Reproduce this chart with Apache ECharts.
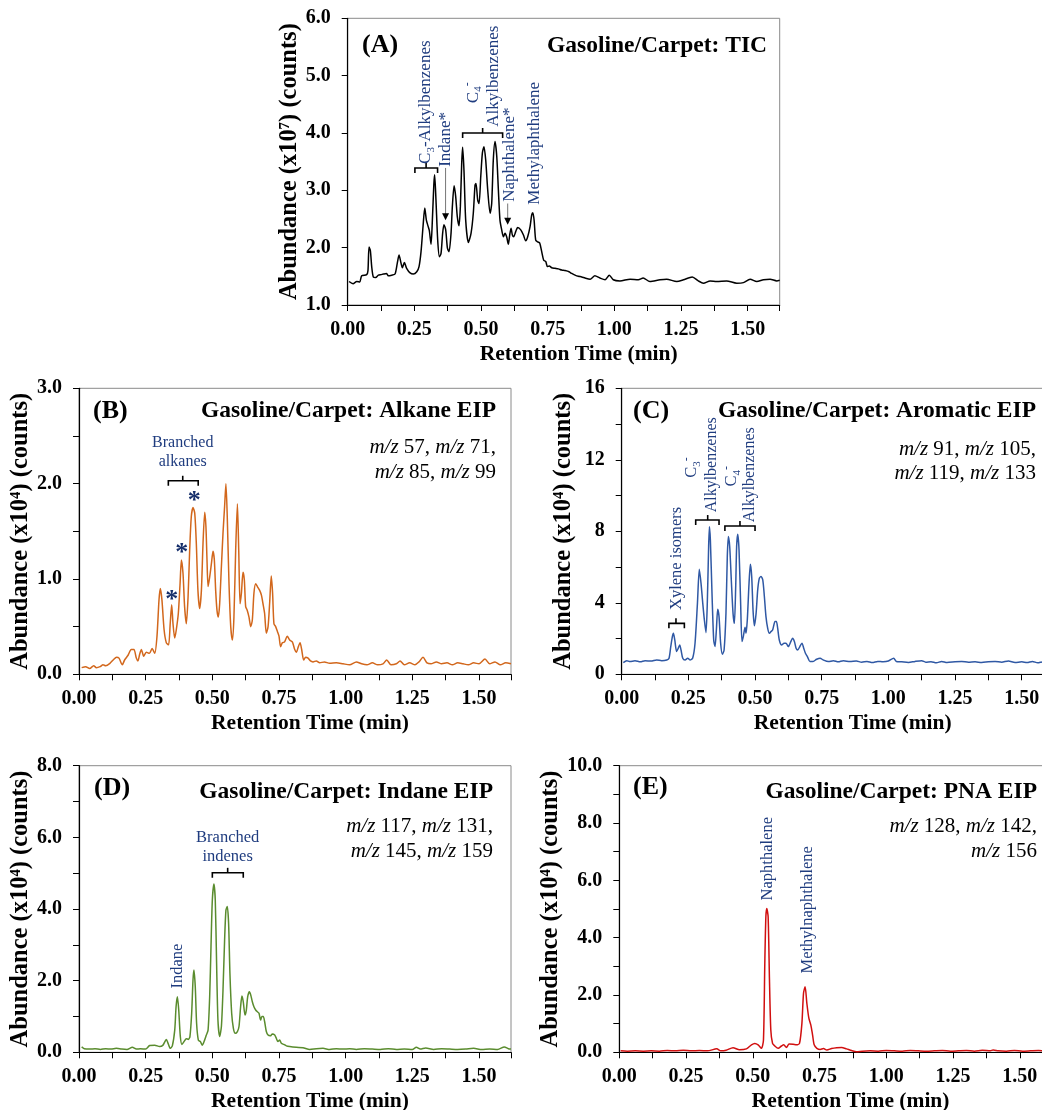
<!DOCTYPE html>
<html><head><meta charset="utf-8">
<script src="https://cdn.jsdelivr.net/npm/echarts@6/dist/echarts.min.js"></script>
<style>html,body{margin:0;padding:0;background:#fff}#c{width:1042px;height:1110px}</style>
</head><body><div id="c"></div>
<script>
// ---------------- DATA ----------------
const xTickLabels = ['0.00','0.25','0.50','0.75','1.00','1.25','1.50'];

// (A) TIC, abundance x10^7
const tA = [0.005,0.02,0.034,0.045,0.0525,0.071,0.076,0.08,0.085,0.09,0.096,0.105,0.115,0.125,0.134,0.146,0.152,0.165,0.1775,0.186,0.1925,0.2,0.205,0.2125,0.221,0.234,0.246,0.259,0.2675,0.275,0.2825,0.289,0.295,0.301,0.306,0.3125,0.3175,0.323,0.326,0.331,0.3375,0.344,0.35,0.356,0.361,0.3675,0.374,0.38,0.3875,0.3925,0.399,0.405,0.411,0.4175,0.4225,0.4275,0.431,0.436,0.4425,0.4525,0.4625,0.471,0.4775,0.481,0.4875,0.4925,0.499,0.505,0.511,0.5175,0.525,0.534,0.54,0.546,0.5525,0.559,0.565,0.571,0.5775,0.584,0.59,0.596,0.6025,0.6075,0.6125,0.6175,0.6225,0.63,0.6375,0.649,0.659,0.6675,0.675,0.684,0.69,0.694,0.699,0.705,0.7125,0.72,0.7275,0.735,0.7425,0.749,0.756,0.765,0.7775,0.79,0.8025,0.815,0.83,0.84,0.8525,0.865,0.8775,0.89,0.909,0.927,0.946,0.965,0.981,0.996,1.021,1.059,1.09,1.108,1.133,1.171,1.196,1.234,1.259,1.292,1.315,1.334,1.359,1.384,1.421,1.459,1.484,1.509,1.534,1.559,1.584,1.609,1.62];
const vA = [1.41,1.37,1.41,1.40,1.51,1.53,1.60,2.01,1.95,1.67,1.49,1.48,1.52,1.53,1.54,1.55,1.51,1.52,1.54,1.73,1.87,1.73,1.65,1.74,1.64,1.56,1.54,1.58,1.67,1.93,2.37,2.69,2.48,2.38,2.30,2.06,2.48,3.10,3.27,2.83,2.13,1.84,1.90,2.25,2.40,2.31,1.99,1.93,2.25,2.72,3.08,2.89,2.54,2.38,2.72,3.47,3.75,3.35,2.48,2.09,2.25,2.60,3.09,3.12,2.83,2.77,3.24,3.65,3.76,3.53,3.01,2.60,2.77,3.53,3.85,3.59,3.01,2.48,2.31,2.19,2.25,2.19,2.06,2.22,2.34,2.22,2.19,2.28,2.35,2.31,2.22,2.12,2.19,2.37,2.57,2.61,2.48,2.13,2.10,2.08,1.93,1.78,1.76,1.67,1.68,1.65,1.64,1.63,1.61,1.60,1.58,1.55,1.52,1.50,1.49,1.47,1.45,1.51,1.47,1.44,1.52,1.44,1.42,1.45,1.44,1.47,1.41,1.44,1.45,1.41,1.44,1.49,1.42,1.38,1.42,1.41,1.42,1.38,1.39,1.45,1.41,1.44,1.45,1.42,1.43];

// (B) Alkane EIP, x10^4
const tB = [0.01,0.025,0.04,0.055,0.065,0.079,0.09,0.1,0.116,0.128,0.141,0.15,0.1625,0.171,0.184,0.196,0.206,0.215,0.221,0.2275,0.234,0.2425,0.2525,0.264,0.274,0.284,0.2925,0.3,0.305,0.311,0.319,0.3275,0.336,0.342,0.3475,0.3525,0.359,0.365,0.3725,0.379,0.384,0.39,0.396,0.4025,0.409,0.415,0.421,0.4275,0.434,0.44,0.446,0.4525,0.459,0.465,0.4715,0.476,0.48,0.484,0.49,0.4965,0.5025,0.5075,0.5125,0.5175,0.5225,0.5275,0.534,0.54,0.546,0.551,0.556,0.5625,0.569,0.575,0.581,0.5875,0.594,0.599,0.604,0.609,0.615,0.62,0.625,0.631,0.6375,0.644,0.65,0.656,0.6625,0.669,0.6775,0.684,0.69,0.696,0.7025,0.709,0.715,0.721,0.726,0.731,0.7375,0.744,0.75,0.756,0.7625,0.771,0.781,0.79,0.8,0.809,0.815,0.8225,0.829,0.835,0.8425,0.85,0.859,0.868,0.8775,0.89,0.9025,0.92,0.94,0.965,0.99,1.015,1.04,1.06,1.08,1.1,1.12,1.14,1.154,1.17,1.19,1.204,1.22,1.24,1.26,1.275,1.29,1.305,1.32,1.34,1.36,1.38,1.4,1.42,1.44,1.46,1.48,1.5,1.5225,1.54,1.56,1.58,1.6,1.62];
const vB = [0.07,0.08,0.06,0.09,0.07,0.08,0.10,0.09,0.115,0.15,0.18,0.17,0.10,0.15,0.20,0.26,0.26,0.17,0.14,0.21,0.26,0.19,0.23,0.22,0.27,0.22,0.40,0.78,0.90,0.78,0.47,0.33,0.31,0.53,0.73,0.53,0.38,0.47,0.64,0.95,1.20,1.06,0.71,0.53,0.81,1.30,1.65,1.75,1.69,1.37,0.88,0.69,0.88,1.37,1.70,1.55,1.20,0.92,1.02,1.16,1.29,1.20,0.88,0.67,0.60,0.74,1.13,1.48,1.76,2.00,1.65,0.95,0.50,0.36,0.60,1.30,1.79,1.30,0.74,0.85,1.07,0.99,0.71,0.67,0.60,0.50,0.57,0.85,0.95,0.92,0.88,0.83,0.74,0.64,0.43,0.50,0.75,1.03,0.85,0.53,0.50,0.45,0.40,0.29,0.33,0.34,0.40,0.36,0.34,0.26,0.23,0.29,0.33,0.26,0.15,0.18,0.17,0.14,0.13,0.14,0.12,0.13,0.115,0.12,0.11,0.10,0.13,0.11,0.10,0.12,0.10,0.11,0.15,0.10,0.11,0.14,0.10,0.12,0.10,0.13,0.18,0.12,0.11,0.13,0.11,0.12,0.10,0.12,0.11,0.10,0.12,0.11,0.16,0.11,0.13,0.10,0.12,0.11];

// (C) Aromatic EIP, x10^4
const tC = [0.006,0.019,0.031,0.05,0.07,0.0875,0.11,0.131,0.15,0.169,0.1775,0.184,0.19,0.194,0.199,0.206,0.212,0.2175,0.2225,0.229,0.2375,0.2475,0.256,0.266,0.275,0.284,0.291,0.2975,0.304,0.31,0.316,0.321,0.326,0.329,0.3325,0.339,0.345,0.35,0.355,0.36,0.365,0.371,0.3775,0.384,0.391,0.396,0.4,0.405,0.411,0.4175,0.4225,0.4275,0.431,0.435,0.44,0.446,0.451,0.456,0.4625,0.466,0.471,0.4775,0.4825,0.4875,0.4925,0.4975,0.504,0.51,0.516,0.5225,0.529,0.535,0.541,0.5475,0.554,0.56,0.566,0.575,0.58,0.585,0.591,0.6,0.609,0.616,0.625,0.634,0.641,0.6475,0.654,0.66,0.668,0.676,0.6825,0.689,0.6975,0.706,0.716,0.731,0.744,0.756,0.775,0.794,0.812,0.831,0.856,0.88,0.9,0.92,0.94,0.96,0.98,1.0,1.02,1.03,1.05,1.075,1.1,1.125,1.14,1.16,1.18,1.2,1.22,1.25,1.275,1.3,1.325,1.35,1.375,1.4,1.425,1.45,1.475,1.5,1.52,1.54,1.56,1.58,1.6,1.62];
const vC = [0.65,0.76,0.71,0.76,0.70,0.76,0.74,0.80,0.76,0.80,0.90,1.55,2.11,2.29,1.92,1.27,1.45,1.64,1.36,0.90,0.80,0.90,0.80,0.90,1.74,3.97,5.88,5.09,3.97,3.04,2.33,3.97,7.15,8.26,7.52,4.35,1.92,1.55,2.48,3.64,3.23,1.74,1.12,1.36,3.41,6.59,7.71,7.15,5.28,3.41,2.85,4.91,7.15,7.84,6.96,3.97,1.83,2.11,2.63,2.29,3.04,5.09,6.16,5.47,3.60,2.71,3.41,4.72,5.37,5.47,5.28,4.35,3.23,2.57,2.29,2.39,2.48,2.95,2.95,2.57,1.92,1.64,1.74,1.74,1.55,1.83,2.01,1.83,1.46,1.36,1.55,1.74,1.46,1.18,0.95,0.71,0.71,0.84,0.90,0.80,0.71,0.76,0.70,0.76,0.71,0.74,0.68,0.72,0.66,0.72,0.70,0.74,0.90,0.72,0.70,0.66,0.72,0.76,0.68,0.70,0.64,0.72,0.66,0.70,0.72,0.68,0.70,0.66,0.70,0.72,0.68,0.74,0.66,0.70,0.66,0.72,0.64,0.70,0.68,0.70];

// (D) Indane EIP, x10^4
const tD = [0.01,0.02,0.04,0.06,0.08,0.1,0.12,0.14,0.16,0.18,0.2,0.215,0.23,0.25,0.265,0.284,0.3025,0.315,0.3275,0.334,0.3425,0.35,0.359,0.364,0.369,0.374,0.38,0.386,0.394,0.4025,0.41,0.416,0.4225,0.4275,0.431,0.436,0.441,0.4475,0.455,0.4625,0.471,0.4775,0.484,0.49,0.495,0.5,0.506,0.511,0.516,0.521,0.5275,0.534,0.54,0.546,0.551,0.556,0.561,0.566,0.5725,0.579,0.586,0.594,0.6,0.606,0.611,0.616,0.6225,0.6275,0.6325,0.639,0.644,0.65,0.656,0.6625,0.669,0.675,0.681,0.686,0.691,0.696,0.7025,0.709,0.7175,0.725,0.734,0.74,0.746,0.7525,0.759,0.768,0.7775,0.79,0.815,0.84,0.865,0.89,0.915,0.94,0.965,0.99,1.015,1.04,1.07,1.1,1.13,1.16,1.19,1.22,1.25,1.265,1.28,1.3,1.33,1.36,1.39,1.42,1.45,1.48,1.51,1.54,1.57,1.595,1.61,1.62];
const vD = [0.15,0.10,0.09,0.10,0.08,0.10,0.09,0.11,0.09,0.08,0.14,0.09,0.10,0.09,0.19,0.20,0.16,0.20,0.36,0.25,0.11,0.18,0.62,1.27,1.55,1.18,0.44,0.22,0.30,0.38,0.36,0.44,1.09,2.02,2.30,1.83,0.81,0.34,0.30,0.20,0.34,0.48,0.62,1.55,2.95,4.25,4.70,4.25,2.48,0.90,0.44,0.72,1.74,3.13,3.97,4.07,3.60,2.20,1.09,0.67,0.53,0.58,0.72,1.27,1.57,1.41,1.04,1.18,1.55,1.69,1.60,1.41,1.27,1.18,1.13,1.09,0.90,1.00,1.00,0.86,0.58,0.48,0.46,0.51,0.48,0.39,0.30,0.34,0.25,0.22,0.18,0.16,0.14,0.13,0.08,0.10,0.11,0.08,0.10,0.09,0.10,0.08,0.10,0.09,0.08,0.10,0.08,0.09,0.08,0.14,0.09,0.12,0.08,0.10,0.09,0.08,0.09,0.11,0.08,0.09,0.08,0.15,0.10,0.09];

// (E) PNA EIP, x10^4
const tE = [0.005,0.03,0.06,0.09,0.12,0.15,0.18,0.21,0.24,0.27,0.3,0.33,0.365,0.38,0.4,0.426,0.45,0.476,0.495,0.5075,0.52,0.5325,0.54,0.545,0.549,0.5525,0.5575,0.5625,0.5675,0.574,0.5825,0.595,0.6075,0.616,0.626,0.636,0.651,0.664,0.675,0.684,0.69,0.696,0.7025,0.71,0.7175,0.724,0.73,0.74,0.7525,0.765,0.7775,0.795,0.814,0.8325,0.851,0.87,0.889,0.91,0.94,0.97,1.0,1.03,1.06,1.09,1.12,1.15,1.18,1.21,1.24,1.27,1.3,1.33,1.36,1.39,1.4,1.42,1.45,1.48,1.51,1.54,1.57,1.6,1.62];
const vE = [0.05,0.04,0.05,0.04,0.05,0.04,0.06,0.05,0.07,0.05,0.06,0.05,0.12,0.05,0.07,0.16,0.09,0.12,0.26,0.31,0.26,0.14,0.43,3.1,4.73,5.02,4.73,2.52,0.78,0.31,0.22,0.14,0.22,0.26,0.17,0.29,0.28,0.26,0.31,1.01,2.06,2.29,1.71,1.19,0.95,0.60,0.26,0.14,0.10,0.13,0.08,0.13,0.16,0.17,0.12,0.06,0.02,0.04,0.05,0.04,0.06,0.05,0.04,0.06,0.05,0.04,0.05,0.06,0.04,0.05,0.06,0.04,0.07,0.05,0.08,0.05,0.04,0.06,0.04,0.05,0.06,0.05,0.05];

// ---------------- LAYOUT / STYLE ----------------
const SERIF = '"Liberation Serif","Times New Roman",serif';
const NAVY = '#1f3c7f';
const panels = [
  {t:tA, v:vA, color:'#000000', grid:{left:347.7, top:18.3, width:432, height:286.7}, ymin:1, ymax:6, yint:1, ylab:1, dec:1, yname:'Abundance (x10\u2077) (counts)'},
  {t:tB, v:vB, color:'#d2671c', grid:{left:79, top:388.3, width:432, height:286}, ymin:0, ymax:3, yint:0.5, ylab:1, dec:1, yname:'Abundance (x10\u2074) (counts)'},
  {t:tC, v:vC, color:'#2f58a4', grid:{left:621.7, top:388.3, width:432, height:286}, ymin:0, ymax:16, yint:2, ylab:4, dec:0, yname:'Abundance (x10\u2074) (counts)'},
  {t:tD, v:vD, color:'#5a8c2e', grid:{left:79, top:765.7, width:432, height:286.6}, ymin:0, ymax:8, yint:1, ylab:2, dec:1, yname:'Abundance (x10\u2074) (counts)'},
  {t:tE, v:vE, color:'#d10f0f', grid:{left:619.3, top:765.7, width:432.5, height:286.6}, ymin:0, ymax:10, yint:1, ylab:2, dec:1, yname:'Abundance (x10\u2074) (counts)'}
];

function isMult(v, s){ const r = v/s; return Math.abs(r-Math.round(r)) < 1e-6; }

const option = {
  animation:false,
  backgroundColor:'#fff',
  grid: panels.map(p => Object.assign({show:true, borderColor:'#8a8a8a', borderWidth:1, containLabel:false, outerBoundsMode:'none'}, p.grid)),
  xAxis: panels.map((p,i) => ({
    gridIndex:i, type:'value', min:0, max:1.62, interval:0.125,
    axisLine:{show:true, onZero:false, lineStyle:{color:'#000', width:1.2}},
    axisTick:{show:true, length:6, lineStyle:{color:'#000', width:1}},
    splitLine:{show:false},
    axisLabel:{margin:15, fontFamily:SERIF, fontWeight:'bold', fontSize:20, color:'#000',
      formatter: v => isMult(v,0.25) ? xTickLabels[Math.round(v/0.25)] : ''},
    name:'Retention Time (min)', nameLocation:'middle', nameGap:38,
    nameTextStyle:{fontFamily:SERIF, fontWeight:'bold', fontSize:21.5, color:'#000', padding:[0,0,0,30]}
  })),
  yAxis: panels.map((p,i) => ({
    gridIndex:i, type:'value', min:p.ymin, max:p.ymax, interval:p.yint,
    axisLine:{show:true, onZero:false, lineStyle:{color:'#000', width:1.2}},
    axisTick:{show:true, length:6, lineStyle:{color:'#000', width:1}},
    splitLine:{show:false},
    axisLabel:{margin:17, fontFamily:SERIF, fontWeight:'bold', fontSize:20, color:'#000',
      formatter: v => isMult(v,p.ylab) ? v.toFixed(p.dec) : ''},
    name:p.yname, nameLocation:'middle', nameGap:46, nameRotate:90,
    nameTextStyle:{fontFamily:SERIF, fontWeight:'bold', fontSize:24.5, color:'#000'}
  })),
  series: panels.map((p,i) => ({
    type:'line', xAxisIndex:i, yAxisIndex:i, showSymbol:false, smooth:0.25,
    lineStyle:{color:p.color, width:1.5}, itemStyle:{color:p.color},
    data: p.t.map((t,k) => [t, p.v[k]])
  }))
};

const chart = echarts.init(document.getElementById('c'), null, {renderer:'canvas'});
chart.setOption(option);

// ---------- static texts (panel letters, titles, m/z lists) ----------
const g = [];
function txt(x, y, text, size, opts){
  opts = opts || {};
  g.push({type:'text', x:x, y:y, rotation:opts.rot||0, z:50, style:Object.assign({
    text:text, fontFamily:SERIF, fontSize:size, fontWeight:opts.bold?'bold':'normal',
    fill:opts.color||'#000', align:opts.align||'left', verticalAlign:opts.va||'middle',
    textAlign:opts.align||'left', textVerticalAlign:opts.va||'middle'}, opts.extra||{})});
}
const mzRich = {rich:{i:{fontStyle:'italic', fontFamily:SERIF, fontSize:21, fill:'#000'}, n:{fontFamily:SERIF, fontSize:21, fill:'#000'}}};
const headers = [
  {lab:'(A)', lx:362, ly:45, title:'Gasoline/Carpet: TIC', tx:767, ty:46, mz:[]},
  {lab:'(B)', lx:93, ly:411, title:'Gasoline/Carpet: Alkane EIP', tx:496, ty:411, mz:['{i|m/z}{n| 57, }{i|m/z}{n| 71,}','{i|m/z}{n| 85, }{i|m/z}{n| 99}'], my:[447.7,472.7]},
  {lab:'(C)', lx:633, ly:411.7, title:'Gasoline/Carpet: Aromatic EIP', tx:1036, ty:411, mz:['{i|m/z}{n| 91, }{i|m/z}{n| 105,}','{i|m/z}{n| 119, }{i|m/z}{n| 133}'], my:[449,473]},
  {lab:'(D)', lx:94, ly:788, title:'Gasoline/Carpet: Indane EIP', tx:493, ty:791.7, mz:['{i|m/z}{n| 117, }{i|m/z}{n| 131,}','{i|m/z}{n| 145, }{i|m/z}{n| 159}'], my:[826.7,851.7]},
  {lab:'(E)', lx:633, ly:787, title:'Gasoline/Carpet: PNA EIP', tx:1037, ty:791.7, mz:['{i|m/z}{n| 128, }{i|m/z}{n| 142,}','{i|m/z}{n| 156}'], my:[826.7,851.7]}
];
headers.forEach(h => {
  txt(h.lx, h.ly, h.lab, 26, {bold:true});
  txt(h.tx, h.ty, h.title, 23.5, {bold:true, align:'right'});
  h.mz.forEach((m,k) => txt(h.tx, h.my[k], m, 21, {align:'right', extra:mzRich}));
});

// ---------- annotations anchored in data coordinates ----------
const brackets = [
  {gi:0, x1:0.252, x2:0.337, xc:0.294, y:3.39},
  {gi:0, x1:0.431, x2:0.581, xc:0.506, y:4.00},
  {gi:1, x1:0.335, x2:0.447, xc:0.389, y:2.03},
  {gi:2, x1:0.177, x2:0.235, xc:0.2035, y:2.85},
  {gi:2, x1:0.2775, x2:0.365, xc:0.3225, y:8.63},
  {gi:2, x1:0.387, x2:0.50, xc:0.4435, y:8.30},
  {gi:3, x1:0.50, x2:0.616, xc:0.5575, y:5.01}
];
const arrows = [
  {gi:0, x:0.367, y1:3.39, y2:2.48},
  {gi:0, x:0.600, y1:2.77, y2:2.40}
];
// {a|..} normal text, {s|..} subscript, {p|..} superscript
const vtexts = [
  {gi:0, x:0.292, y:3.46, text:'{a|C}{s|3}{a|-Alkylbenzenes}', size:17},
  {gi:0, x:0.368, y:3.41, text:'{a|Indane*}', size:17},
  {gi:0, x:0.470, y:4.52, text:'{a|C}{s|4}{p|-}', size:17},
  {gi:0, x:0.548, y:4.11, text:'{a|Alkylbenzenes}', size:17},
  {gi:0, x:0.605, y:2.80, text:'{a|Naphthalene*}', size:17},
  {gi:0, x:0.699, y:2.75, text:'{a|Methylaphthalene}', size:17},
  {gi:2, x:0.206, y:3.60, text:'{a|Xylene isomers}', size:16.5},
  {gi:2, x:0.2625, y:11.0, text:'{a|C}{s|3}{p|-}', size:16.5},
  {gi:2, x:0.3375, y:9.06, text:'{a|Alkylbenzenes}', size:16},
  {gi:2, x:0.4125, y:10.5, text:'{a|C}{s|4}{p|-}', size:16.5},
  {gi:2, x:0.481, y:8.50, text:'{a|Alkylbenzenes}', size:16},
  {gi:3, x:0.370, y:1.78, text:'{a|Indane}', size:16.5},
  {gi:4, x:0.554, y:5.3, text:'{a|Naphthalene}', size:16.5},
  {gi:4, x:0.704, y:2.75, text:'{a|Methylnaphthalene}', size:16.5}
];
const htexts = [
  {gi:1, x:0.389, y:2.43, text:'Branched', size:16},
  {gi:1, x:0.389, y:2.23, text:'alkanes', size:16},
  {gi:3, x:0.5575, y:6.0, text:'Branched', size:16.5},
  {gi:3, x:0.5575, y:5.45, text:'indenes', size:16.5}
];
const stars = [
  {gi:1, x:0.3475, y:0.83},
  {gi:1, x:0.385, y:1.32},
  {gi:1, x:0.4325, y:1.87}
];
function px(gi, x, y){ return chart.convertToPixel({gridIndex:gi}, [x, y]); }
brackets.forEach(b => {
  const a = px(b.gi, b.x1, b.y), c = px(b.gi, b.x2, b.y), m = px(b.gi, b.xc, b.y);
  g.push({type:'polyline', z:40, shape:{points:[[a[0],a[1]+5],[a[0],a[1]],[c[0],c[1]],[c[0],c[1]+5]]}, style:{stroke:'#000', lineWidth:1.6, fill:null}});
  g.push({type:'line', z:40, shape:{x1:m[0], y1:m[1], x2:m[0], y2:m[1]-5}, style:{stroke:'#000', lineWidth:1.6}});
});
arrows.forEach(a => {
  const p1 = px(a.gi, a.x, a.y1), p2 = px(a.gi, a.x, a.y2);
  g.push({type:'line', z:40, shape:{x1:p1[0], y1:p1[1], x2:p2[0], y2:p2[1]-6}, style:{stroke:'#666', lineWidth:0.9}});
  g.push({type:'polygon', z:40, shape:{points:[[p2[0]-3.5,p2[1]-7],[p2[0]+3.5,p2[1]-7],[p2[0],p2[1]]]}, style:{fill:'#000'}});
});
vtexts.forEach(t => {
  const p = px(t.gi, t.x, t.y), s = t.size;
  const rich = {
    a:{fontFamily:SERIF, fontSize:s, fill:NAVY, lineHeight:Math.round(s*1.3), verticalAlign:'middle'},
    s:{fontFamily:SERIF, fontSize:Math.round(s*0.66), fill:NAVY, lineHeight:Math.round(s*0.66), verticalAlign:'bottom'},
    p:{fontFamily:SERIF, fontSize:Math.round(s*0.72), fill:NAVY, lineHeight:Math.round(s*0.72), verticalAlign:'top'}
  };
  txt(p[0], p[1], t.text, s, {rot:Math.PI/2, color:NAVY, extra:{rich:rich}});
});
htexts.forEach(t => { const p = px(t.gi, t.x, t.y); txt(p[0], p[1], t.text, t.size, {align:'center', color:NAVY}); });
stars.forEach(s => { const p = px(s.gi, s.x, s.y); txt(p[0], p[1]+5, '*', 26, {align:'center', bold:true, color:'#162f6b'}); });

chart.setOption({graphic: g});
</script></body></html>
